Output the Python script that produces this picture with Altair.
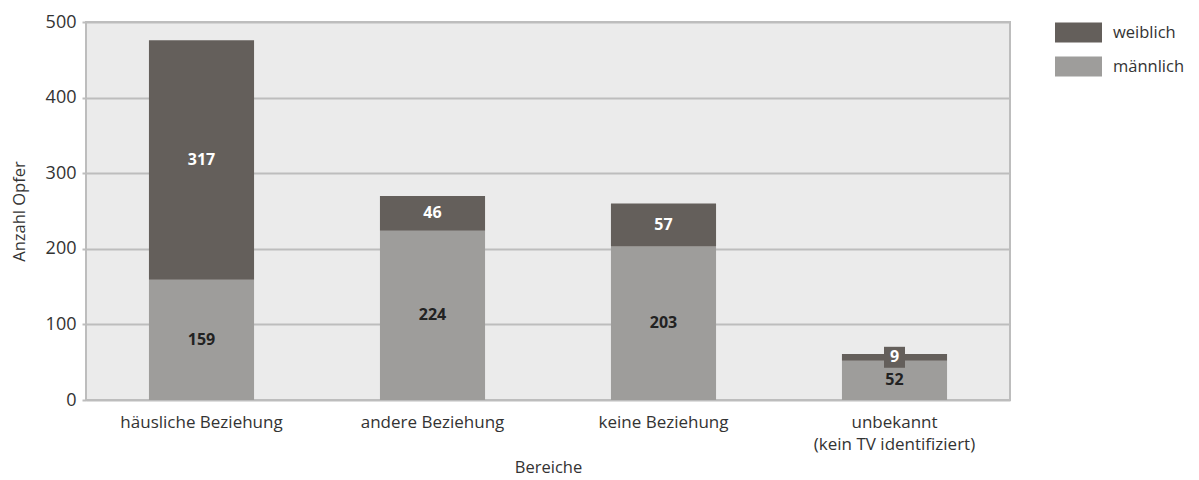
import altair as alt
import pandas as pd

categories = ["häusliche Beziehung", "andere Beziehung", "keine Beziehung", "unbekannt\n(kein TV identifiziert)"]
maennlich = [159, 224, 203, 52]
weiblich = [317, 46, 57, 9]
series = ["weiblich", "männlich"]
colors = ["#645f5b", "#9e9d9b"]

rows = []
for c, m, w in zip(categories, maennlich, weiblich):
    rows.append({"Bereich": c, "Geschlecht": "männlich", "Wert": m, "ord": 0, "y0": 0, "y1": m})
    rows.append({"Bereich": c, "Geschlecht": "weiblich", "Wert": w, "ord": 1, "y0": m, "y1": m + w})
df = pd.DataFrame(rows)
df["mid"] = (df["y0"] + df["y1"]) / 2

FONT = "Open Sans"

x = alt.X("Bereich:N", sort=categories, title="Bereiche",
          scale=alt.Scale(paddingInner=0.545, paddingOuter=0.2725),
          axis=alt.Axis(labelAngle=0, ticks=False, domain=False, labelPadding=14,
                        labelExpr="split(datum.label, '\\n')", labelFontSize=17,
                        labelColor="#333333", titleFontSize=16.5, titleFontWeight="normal",
                        titleColor="#333333", titlePadding=7, labelFont=FONT, titleFont=FONT,
                        labelLineHeight=22))

bars = alt.Chart(df).mark_bar(stroke=None).encode(
    x=x,
    y=alt.Y("y0:Q", title="Anzahl Opfer",
            scale=alt.Scale(domain=[0, 500]),
            axis=alt.Axis(values=[0, 100, 200, 300, 400, 500], grid=True, gridColor="#bdbdbd",
                          gridWidth=2, domain=False, tickColor="#bdbdbd", tickSize=4, tickWidth=2,
                          labelFontSize=18, labelColor="#333333", labelPadding=6,
                          titleFontSize=16.5, titleFontWeight="normal", titleColor="#333333",
                          titlePadding=18, labelFont=FONT, titleFont=FONT)),
    y2="y1:Q",
    color=alt.Color("Geschlecht:N", sort=series,
                    scale=alt.Scale(domain=series, range=colors),
                    legend=alt.Legend(title=None, orient="none", legendX=969, legendY=-13,
                                      symbolType="M-1,-0.4255H1V0.4255H-1Z", symbolSize=2209,
                                      symbolStrokeWidth=0, symbolOpacity=1, labelFontSize=16.5,
                                      labelColor="#333333", labelFont=FONT, rowPadding=-23.5,
                                      labelOffset=11)),
    order=alt.Order("ord:Q"),
)

box9 = alt.Chart(df[(df["Geschlecht"] == "weiblich") & (df["Wert"] < 20)]).mark_square(
    size=440, color="#645f5b", opacity=1
).encode(x=alt.X("Bereich:N", sort=categories), y=alt.Y("mid:Q"))

labels = alt.Chart(df).mark_text(fontSize=16, fontWeight="bold", font=FONT, baseline="middle").encode(
    x=alt.X("Bereich:N", sort=categories),
    y=alt.Y("mid:Q"),
    text=alt.Text("Wert:Q"),
    color=alt.Color("Geschlecht:N", scale=alt.Scale(domain=series, range=["#ffffff", "#222222"]), legend=None),
)

chart = alt.layer(bars, box9, labels).resolve_scale(color="independent").properties(
    width=924, height=378,
    autosize=alt.AutoSizeParams(type="none"),
    padding={"left": 78, "top": 14, "right": 180, "bottom": 78},
    background="#ffffff",
).configure_view(fill="#ebebeb", stroke="#bdbdbd", strokeWidth=2)

chart.save("out.html", embed_options={"renderer": "svg", "actions": False})
